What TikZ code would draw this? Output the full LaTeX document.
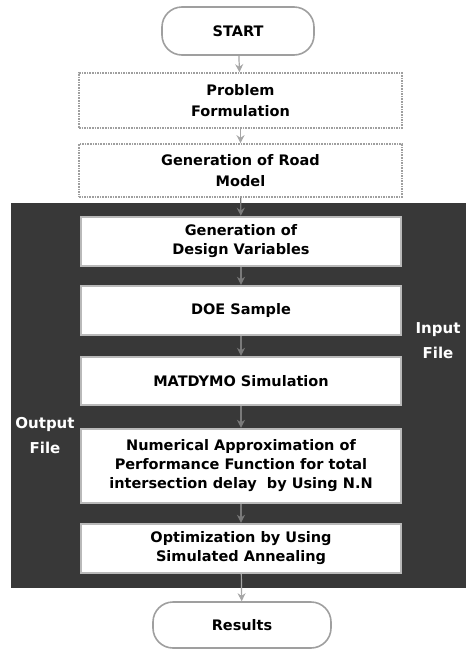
\documentclass[tikz,border=0pt]{standalone}
\usepackage{fontspec}
\setmainfont{DejaVu Sans}
\usetikzlibrary{arrows.meta}
\tikzset{
  boxtxt/.style={font=\bfseries\fontsize{14.5}{19}\selectfont, align=center, inner sep=2pt},
  topbox/.style={boxtxt, font=\bfseries\fontsize{14.5}{21.5}\selectfont, rectangle, draw=gray!75, densely dotted, line width=1.6pt, fill=white, minimum width=323pt},
  inbox/.style={boxtxt, rectangle, draw=gray!55, line width=2.4pt, fill=white, minimum width=320pt},
  term/.style={boxtxt, rectangle, rounded corners=20pt, draw=gray!75, line width=1.6pt, fill=white},
  flow/.style={-{Stealth[length=8pt,width=8pt]}, draw=gray!70, line width=1.2pt},
  inflow/.style={-{Stealth[length=8pt,width=8pt]}, draw=black!52, line width=1.2pt},
  sidetxt/.style={font=\bfseries\fontsize{15}{25}\selectfont, text=white, align=center, inner sep=0pt}
}
\begin{document}
\begin{tikzpicture}[x=1pt,y=-1pt]
\useasboundingbox (0,0) rectangle (469,651);
\fill[black!78] (11,203) rectangle (466,588);
\node[term, minimum width=152pt, minimum height=48pt] (start) at (238,31) {START};
\node[topbox, minimum height=55pt] (prob) at (240.5,100.5) {Problem\\Formulation};
\node[topbox, minimum height=53pt] (road) at (240.5,170.5) {Generation of Road\\Model};
\node[inbox, minimum height=49pt] (dv) at (241,241.5) {Generation of\\Design Variables};
\node[inbox, minimum height=49pt] (doe) at (241,310.5) {DOE Sample};
\node[inbox, minimum height=48pt] (mat) at (241,381) {MATDYMO Simulation};
\node[inbox, minimum height=74pt] (num) at (241,466) {Numerical Approximation of\\Performance Function for total\\intersection delay\ \ by Using N.N};
\node[inbox, minimum height=49pt] (opt) at (241,548.5) {Optimization by Using\\Simulated Annealing};
\node[term, minimum width=178pt, minimum height=46pt] (res) at (242,625) {Results};
\node[sidetxt] (outl) at (45,436) {Output\\File};
\node[sidetxt] (inl) at (438,341) {Input\\File};
\draw[flow] (start) -- (prob);
\draw[flow] (prob) -- (road);
\draw[inflow] (road) -- (dv);
\draw[inflow] (dv) -- (doe);
\draw[inflow] (doe) -- (mat);
\draw[inflow] (mat) -- (num);
\draw[inflow] (num) -- (opt);
\draw[flow] (opt) -- (res);
\end{tikzpicture}
\end{document}
